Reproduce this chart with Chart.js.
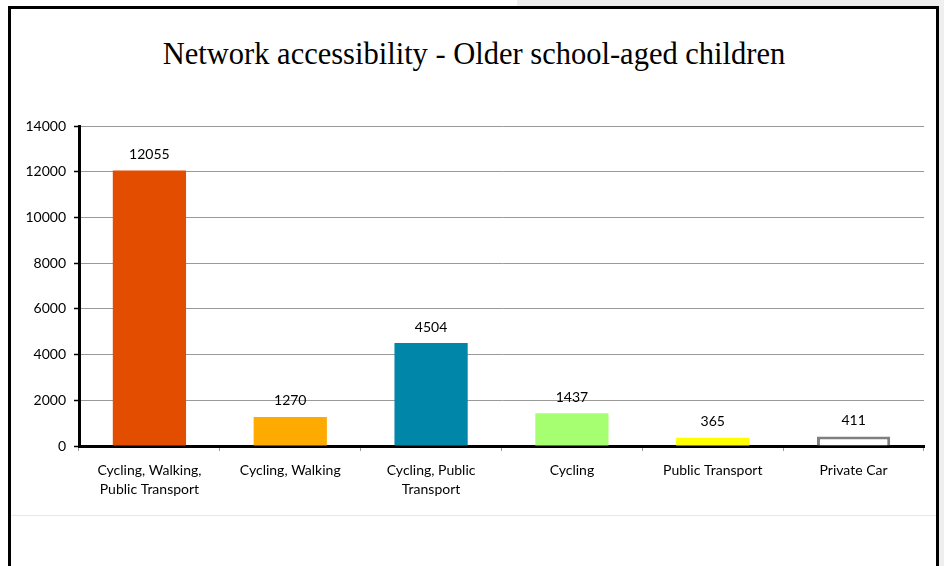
<!DOCTYPE html>
<html>
<head>
<meta charset="utf-8">
<script src="https://cdn.jsdelivr.net/npm/chart.js@4/dist/chart.umd.min.js"></script>
<style>
    html, body { margin: 0; padding: 0; background: #ffffff; }
    #page { position: relative; width: 944px; height: 566px; overflow: hidden; background: #ffffff; }
    #shade-top { position: absolute; left: 517px; top: 0; width: 427px; height: 7px; background: #efefef; }
    #shade-right { position: absolute; left: 939px; top: 0; width: 5px; height: 566px; background: #efefef; }
    #frame { position: absolute; left: 8px; top: 6px; width: 925px; height: 557px; border: 3px solid #000; }
    #rule { position: absolute; left: 11px; top: 515px; width: 925px; height: 1px; background: #e8e8e8; }
    #title {
        position: absolute; left: 0; top: 37px; width: 948px; text-align: center;
        font-family: "Liberation Serif", serif; font-size: 30.5px; color: #000;
    }
    canvas { position: absolute; left: 0; top: 0; }
</style>
</head>
<body>
<div id="page">
    <div id="shade-top"></div>
    <div id="shade-right"></div>
    <div id="frame"></div>
    <div id="rule"></div>
    <div id="title">Network accessibility - Older school-aged children</div>
    <canvas id="chart" width="944" height="566"></canvas>
</div>
<script>
const categories = [
    ["Cycling, Walking,", "Public Transport"],
    "Cycling, Walking",
    ["Cycling, Public", "Transport"],
    "Cycling",
    "Public Transport",
    "Private Car"
];
const values = [12055, 1270, 4504, 1437, 365, 411];
const barColors = ["#e34d00", "#ffaa00", "#0086a8", "#a6ff70", "#ffff00", "#ffffff"];
const barBorders = ["#e34d00", "#ffaa00", "#0086a8", "#a6ff70", "#ffff00", "#808080"];
const yMax = 14000;
const yStep = 2000;

// label above each bar
const valueLabels = {
    id: "valueLabels",
    afterDatasetsDraw(chart) {
        const ctx = chart.ctx;
        const meta = chart.getDatasetMeta(0);
        ctx.save();
        ctx.font = "14px Lato";
        ctx.fillStyle = "#000";
        ctx.textAlign = "center";
        ctx.textBaseline = "middle";
        meta.data.forEach((bar, i) => {
            ctx.fillText(values[i], bar.x, bar.y - 16);
        });
        ctx.restore();
    }
};

new Chart(document.getElementById("chart").getContext("2d"), {
    type: "bar",
    data: {
        labels: categories,
        datasets: [{
            data: values,
            backgroundColor: barColors,
            borderColor: barBorders,
            borderWidth: [0, 0, 0, 0, 0, 3],
            categoryPercentage: 1,
            barPercentage: 0.52
        }]
    },
    options: {
        responsive: false,
        animation: false,
        layout: { padding: { left: 0, right: 20, top: 126, bottom: 0 } },
        plugins: {
            legend: { display: false },
            tooltip: { enabled: false }
        },
        scales: {
            x: {
                afterFit(scale) { scale.height = 120; },
                grid: { drawOnChartArea: false, drawTicks: true, tickLength: 5, color: "#999", offset: true },
                border: { color: "#000", width: 3 },
                ticks: {
                    color: "#000", font: { family: "Lato", size: 14, lineHeight: 1.35 },
                    padding: 10, maxRotation: 0, autoSkip: false
                }
            },
            y: {
                min: 0, max: yMax,
                afterFit(scale) { scale.width = 79; },
                grid: { color: "#999", lineWidth: 1, tickLength: 5, tickColor: "#000", tickWidth: 1.5 },
                border: { color: "#000", width: 3 },
                ticks: {
                    stepSize: yStep, color: "#000", font: { family: "Lato", size: 14 }, padding: 8,
                    callback: v => String(v)
                }
            }
        }
    },
    plugins: [valueLabels]
});
</script>
</body>
</html>
